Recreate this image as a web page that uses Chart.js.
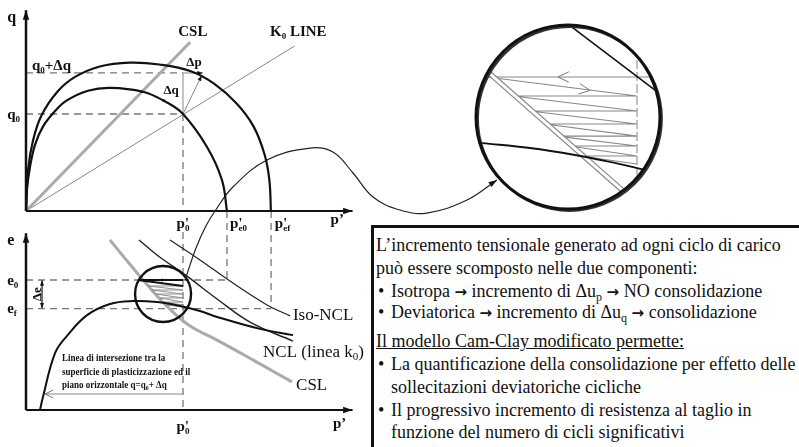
<!DOCTYPE html>
<html>
<head>
<meta charset="utf-8">
<script src="https://cdn.jsdelivr.net/npm/chart.js@4.4.0/dist/chart.umd.min.js"></script>
<style>
  body { margin: 0; background: #fff; width: 799px; height: 447px; overflow: hidden; position: relative; }
  #c { position: absolute; left: 0; top: 0; }
  #box { position: absolute; left: 371px; top: 225px; width: 500px; height: 300px; border: 3px solid #111; background: #fff;
         font-family: "Liberation Serif", "Times New Roman", Times, serif; font-size: 18px; color: #111; }
  .l { position: absolute; white-space: nowrap; line-height: 20px; }
  .l sub { font-size: 12px; vertical-align: -4px; line-height: 0; }
  .u { text-decoration: underline; }
  .ar { font-family: "DejaVu Sans", sans-serif; font-size: 15px; font-weight: bold; }
</style>
</head>
<body>
<canvas id="c" width="799" height="447"></canvas>
<div id="box">
  <div class="l" style="top:7px;left:2px">L’incremento tensionale generato ad ogni ciclo di carico</div>
  <div class="l" style="top:30px;left:2px">può essere scomposto nelle due componenti:</div>
  <div class="l" style="top:53px;left:4px">•</div>
  <div class="l" style="top:53px;left:17px">Isotropa <span class="ar">→</span> incremento di Δu<sub>p</sub> <span class="ar">→</span> NO consolidazione</div>
  <div class="l" style="top:74px;left:4px">•</div>
  <div class="l" style="top:74px;left:17px">Deviatorica <span class="ar">→</span> incremento di Δu<sub>q</sub> <span class="ar">→</span> consolidazione</div>
  <div class="l u" style="top:103px;left:2px">Il modello Cam-Clay modificato permette:</div>
  <div class="l" style="top:126px;left:4px">•</div>
  <div class="l" style="top:126px;left:17px">La quantificazione della consolidazione per effetto delle</div>
  <div class="l" style="top:149px;left:17px">sollecitazioni deviatoriche cicliche</div>
  <div class="l" style="top:172px;left:4px">•</div>
  <div class="l" style="top:172px;left:17px">Il progressivo incremento di resistenza al taglio in</div>
  <div class="l" style="top:194px;left:17px">funzione del numero di cicli significativi</div>
</div>
<script>
// ---- upper plane: p' (p'0 = 1) vs q (q0 = 1)
const qAxis = [[0, 0], [0, 2.07]];
const pAxisTop = [[0, 0], [2.08, 0]];
const outerYield = [[0, 0], [0.013, 0.42], [0.045, 0.73], [0.10, 0.99], [0.20, 1.23], [0.31, 1.38], [0.47, 1.49],
  [0.66, 1.53], [0.85, 1.51], [1.05, 1.44], [1.20, 1.31], [1.34, 1.11], [1.45, 0.87], [1.52, 0.58], [1.55, 0.32], [1.56, 0]];
const innerYield = [[0, 0], [0.006, 0.22], [0.025, 0.45], [0.057, 0.68], [0.108, 0.87], [0.185, 1.03], [0.26, 1.14],
  [0.395, 1.24], [0.535, 1.27], [0.745, 1.23], [0.885, 1.13], [1.0, 1.0], [1.153, 0.66], [1.248, 0.32], [1.28, 0]];
const cslTop = [[0, 0], [1.045, 1.74]];
const k0Line = [[0, 0], [1.71, 1.70]];
const q1Dash = [[0, 1.423], [1.0, 1.423]];
const q0Dash = [[0, 1], [1, 1]];
const p0DashTop = [[1, 1], [1, 0]];
const deltaQ = [[1, 1], [1, 1.423]];
const deltaP = [[1, 1.423], [1.127, 1.423]];
const deltaR = [[1, 1], [1.12, 1.40]];
const connector = [[1.013, -0.711], [1.083, -0.381], [1.146, -0.155], [1.204, 0], [1.318, 0.247], [1.535, 0.526],
  [1.809, 0.649], [1.955, 0.608], [2.083, 0.392], [2.21, 0.144], [2.382, 0.01], [2.554, -0.021], [2.809, 0.113], [3.0, 0.32]];

// ---- lower plane: p' vs e (e0 = 1, ef = 0.89)
const eAxis = [[0, 0.5], [0, 1.18]];
const pAxisBottom = [[0, 0.5], [2.08, 0.5]];
const cslBottom = [[0.535, 1.154], [0.65, 1.069], [0.79, 0.969], [0.917, 0.888], [1.045, 0.823], [1.217, 0.769], [1.459, 0.688], [1.694, 0.608]];
const isoNcl = [[0.917, 1.154], [1.108, 1.077], [1.318, 0.988], [1.535, 0.904], [1.682, 0.862]];
const nclK0 = [[0.72, 1.154], [0.834, 1.096], [1.025, 1.015], [1.217, 0.927], [1.427, 0.838], [1.701, 0.765]];
const yieldLine = [[0.089, 0.5], [0.108, 0.55], [0.185, 0.719], [0.261, 0.785], [0.389, 0.865], [0.535, 0.908], [0.682, 0.919],
  [0.834, 0.915], [0.981, 0.9], [1.108, 0.881], [1.217, 0.858], [1.49, 0.812], [1.701, 0.788]];
const e0Dash = [[0, 1], [1.28, 1]];
const efDash = [[0, 0.89], [1.561, 0.89]];
const p0DashBottom = [[1, 1.185], [1, 0.5]];
const pe0Dash = [[1.28, 1.265], [1.28, 1]];
const pefDash = [[1.561, 1.265], [1.561, 0.89]];
const smallCircle = [[0.873, 0.946]];
const hatchTop = [[1.0, 1], [0.713, 1], [1.0, 0.977]];
const hatchSaw = [[1.0, 0.977], [0.777, 0.977], [1.0, 0.9615], [0.803, 0.9615], [1.0, 0.946], [0.828, 0.946], [1.0, 0.931],
  [0.854, 0.931], [1.0, 0.915], [0.879, 0.915], [1.0, 0.904], [0.898, 0.904], [1.0, 0.896]];
const deltaE = [[0.102, 1], [0.102, 0.89]];
const noteArrow = [[1.0, 0.5615], [0.121, 0.5615]];

// ---- zoom (unit = circle radius)
const zoomCircle = [[0, 0]];
const zoomShade = [[0.018, -0.018]];
const zoomIso = [[0.043, 0.978], [0.946, 0.293]];
const zoomP0 = [[0.75, 0.62], [0.75, -0.63]];
const zoomCsl = [[-0.87, 0.489], [0.587, -0.793]];
const zoomTop = [[-0.88, 0.435], [0.902, 0.435]];
const zoomSaw = [[-0.88, 0.435], [0.75, 0.228], [-0.598, 0.228], [0.75, 0.065], [-0.413, 0.065], [0.75, -0.076], [-0.25, -0.076],
  [0.75, -0.207], [-0.12, -0.207], [0.75, -0.315], [0.022, -0.315], [0.75, -0.424], [0.13, -0.424], [0.75, -0.511]];
const zoomYield = [[-0.935, -0.283], [-0.413, -0.337], [0.076, -0.413], [0.457, -0.489], [0.837, -0.576]];

// visible window of each scale
const ranges = {
  x: [-0.1656, 4.9236],
  yq: [-2.433, 2.1753],
  ye: [0.3577, 2.0769],
  xz: [-6.174, 2.511],
  yz: [-3.587, 1.2717]
};

const pts = a => a.map(([x, y]) => ({ x, y }));
function line(a, xs, ys, color, width, extra) {
  return Object.assign({ data: pts(a), xAxisID: xs, yAxisID: ys, showLine: true, borderColor: color,
    borderWidth: width, pointRadius: 0, tension: 0, fill: false }, extra || {});
}
function ring(a, xs, ys, r, width, color) {
  return { data: pts(a), xAxisID: xs, yAxisID: ys, showLine: false, pointRadius: r, pointBorderWidth: width,
    pointBorderColor: color, pointBackgroundColor: 'rgba(0,0,0,0)' };
}
const DASH = { borderDash: [7, 5] };

// Chart.js paints the first dataset on top
const datasets = [
  line(qAxis, 'x', 'yq', '#111', 2.5),
  line(pAxisTop, 'x', 'yq', '#111', 2),
  line(outerYield, 'x', 'yq', '#111', 2.2, { tension: 0.4 }),
  line(innerYield, 'x', 'yq', '#111', 2.2, { tension: 0.4 }),
  line(connector, 'x', 'yq', '#222', 1.2, { tension: 0.4 }),
  line(cslTop, 'x', 'yq', '#aaa', 3),
  line(k0Line, 'x', 'yq', '#888', 1),
  line(q1Dash, 'x', 'yq', '#777', 1.3, DASH),
  line(q0Dash, 'x', 'yq', '#777', 1.3, DASH),
  line(p0DashTop, 'x', 'yq', '#777', 1.3, DASH),
  line(deltaQ, 'x', 'yq', '#888', 1),
  line(deltaP, 'x', 'yq', '#888', 1),
  line(deltaR, 'x', 'yq', '#888', 1),

  line(eAxis, 'x', 'ye', '#111', 2.5),
  line(pAxisBottom, 'x', 'ye', '#111', 2),
  ring(smallCircle, 'x', 'ye', 28, 2.4, '#111'),
  line(hatchTop, 'x', 'ye', '#111', 2),
  line(yieldLine, 'x', 'ye', '#111', 2, { tension: 0.4 }),
  line(nclK0, 'x', 'ye', '#222', 1.4, { tension: 0.4 }),
  line(isoNcl, 'x', 'ye', '#222', 1.2, { tension: 0.4 }),
  line(hatchSaw, 'x', 'ye', '#888', 0.9),
  line(cslBottom, 'x', 'ye', '#aaa', 3, { tension: 0.4 }),
  line(e0Dash, 'x', 'ye', '#777', 1.3, DASH),
  line(efDash, 'x', 'ye', '#777', 1.3, DASH),
  line(p0DashBottom, 'x', 'ye', '#777', 1.3, DASH),
  line(pe0Dash, 'x', 'ye', '#777', 1.3, DASH),
  line(pefDash, 'x', 'ye', '#777', 1.3, DASH),
  line(deltaE, 'x', 'ye', '#111', 1.2),
  line(noteArrow, 'x', 'ye', '#888', 1),

  ring(zoomCircle, 'xz', 'yz', 92, 3, '#111'),
  ring(zoomShade, 'xz', 'yz', 92, 2.5, '#333'),
  line(zoomIso, 'xz', 'yz', '#111', 1.6),
  line(zoomYield, 'xz', 'yz', '#111', 1.8, { tension: 0.4 }),
  line(zoomCsl, 'xz', 'yz', '#fff', 3),
  line(zoomCsl, 'xz', 'yz', '#8a8a8a', 5.5),
  line(zoomP0, 'xz', 'yz', '#999', 1.2, { borderDash: [9, 3] }),
  line(zoomTop, 'xz', 'yz', '#888', 1.2),
  line(zoomSaw, 'xz', 'yz', '#888', 1.2)
];

// arrow heads: [xScale, yScale, from, to, style, size]
const heads = [
  ['x', 'yq', [0, 1.9], [0, 2.07], 'fill', 10],
  ['x', 'yq', [1.9, 0], [2.08, 0], 'fill', 10],
  ['x', 'ye', [0, 1.0], [0, 1.18], 'fill', 10],
  ['x', 'ye', [1.9, 0.5], [2.08, 0.5], 'fill', 10],
  ['x', 'yq', [1, 1.423], [1.127, 1.423], 'fill', 6],
  ['x', 'yq', [1, 1], [1.12, 1.40], 'fill', 6],
  ['x', 'yq', [2.809, 0.113], [3.0, 0.32], 'fill', 9],
  ['x', 'ye', [0.102, 0.95], [0.102, 1], 'fill', 6],
  ['x', 'ye', [0.102, 0.94], [0.102, 0.89], 'fill', 6],
  ['x', 'ye', [0.5, 0.5615], [0.121, 0.5615], 'open', 9],
  ['x', 'ye', [0.9, 1], [0.84, 1], 'fill', 5],
  ['x', 'yq', [0.7, 1.245], [0.76, 1.22], 'fill', 5],
  ['x', 'yq', [0.85, 1.16], [0.9, 1.12], 'fill', 5],
  ['xz', 'yz', [0.05, 0.435], [-0.109, 0.435], 'open', 12],
  ['xz', 'yz', [0.09, 0.31], [0.239, 0.29], 'open', 12]
];

const FAM = '"Liberation Serif", "Times New Roman", Times, serif';
// labels: [xScale, yScale, position, runs, size, bold, align, extra]
const labels = [
  ['x', 'yq', [-0.12, 2.0], [['q']], 16, true, 'left'],
  ['x', 'yq', [0.038, 1.51], [['q'], ['0', 'sub'], ['+Δq']], 15, true, 'left'],
  ['x', 'yq', [-0.12, 1.0], [['q'], ['0', 'sub']], 15, true, 'left'],
  ['x', 'yq', [0.97, 1.856], [['CSL']], 15, true, 'left'],
  ['x', 'yq', [1.554, 1.856], [['K'], ['0', 'sub'], [' LINE']], 15, true, 'left'],
  ['x', 'yq', [0.924, 1.247], [['Δq']], 13, true, 'center'],
  ['x', 'yq', [1.07, 1.536], [['Δp']], 13, true, 'center'],
  ['x', 'yq', [1.0, -0.12], [['p'], ["'", 'sup', 'stack'], ['0', 'sub']], 15, true, 'center'],
  ['x', 'yq', [1.30, -0.12], [['p'], ["'", 'sup', 'stack'], ['e0', 'sub']], 15, true, 'left'],
  ['x', 'yq', [1.585, -0.12], [['p'], ["'", 'sup', 'stack'], ['ef', 'sub']], 15, true, 'left'],
  ['x', 'yq', [1.94, -0.08], [['p’']], 15, true, 'left'],

  ['x', 'ye', [-0.12, 1.154], [['e']], 16, true, 'left'],
  ['x', 'ye', [-0.12, 1.0], [['e'], ['0', 'sub']], 15, true, 'left'],
  ['x', 'ye', [-0.12, 0.892], [['e'], ['f', 'sub']], 15, true, 'left'],
  ['x', 'ye', [0.07, 0.945], [['Δe']], 13, true, 'center', { rot: -Math.PI / 2 }],
  ['x', 'ye', [1.7, 0.869], [['Iso-NCL']], 17, false, 'left'],
  ['x', 'ye', [1.51, 0.726], [['NCL (linea k'], ['0', 'sub'], [')']], 17, false, 'left'],
  ['x', 'ye', [1.72, 0.6], [['CSL']], 17, false, 'left'],
  ['x', 'ye', [1.0, 0.44], [['p'], ["'", 'sup', 'stack'], ['0', 'sub']], 15, true, 'center'],
  ['x', 'ye', [1.955, 0.45], [['p’']], 15, true, 'left'],
  ['x', 'ye', [0.229, 0.704], [['Linea di intersezione tra la']], 11, true, 'left', { sq: 0.82 }],
  ['x', 'ye', [0.229, 0.65], [['superficie di plasticizzazione ed il']], 11, true, 'left', { sq: 0.82 }],
  ['x', 'ye', [0.229, 0.6], [['piano orizzontale q=q'], ['0', 'sub'], ['+ Δq']], 11, true, 'left', { sq: 0.82 }]
];

function drawHead(ctx, x1, y1, x2, y2, style, size) {
  const a = Math.atan2(y2 - y1, x2 - x1), w = style === 'open' ? 0.45 : 0.33;
  ctx.beginPath();
  ctx.moveTo(x2 - size * Math.cos(a - w), y2 - size * Math.sin(a - w));
  ctx.lineTo(x2, y2);
  ctx.lineTo(x2 - size * Math.cos(a + w), y2 - size * Math.sin(a + w));
  if (style === 'open') { ctx.strokeStyle = '#777'; ctx.lineWidth = 1; ctx.stroke(); }
  else { ctx.closePath(); ctx.fillStyle = '#111'; ctx.fill(); }
}

function drawLabel(ctx, chart, L) {
  const [xs, ys, at, runs, size, bold, align, extra] = L;
  const ex = extra || {};
  const px = chart.scales[xs].getPixelForValue(at[0]);
  const py = chart.scales[ys].getPixelForValue(at[1]);
  const font = s => (bold ? 'bold ' : '') + s + 'px ' + FAM;
  const parts = runs.map(r => {
    const s = r[1] === 'sub' ? Math.round(size * 0.62) : (r[1] === 'sup' ? Math.round(size * 0.9) : size);
    ctx.font = font(s);
    return { t: r[0], kind: r[1], stack: r[2] === 'stack', s, w: ctx.measureText(r[0]).width };
  });
  let w = 0, pend = 0;
  parts.forEach(p => { if (p.stack) pend = p.w; else { w += Math.max(p.w, pend); pend = 0; } });
  ctx.save();
  ctx.translate(px, py);
  if (ex.rot) ctx.rotate(ex.rot);
  if (ex.sq) ctx.scale(ex.sq, 1);
  let x = align === 'center' ? -w / 2 : 0;
  ctx.fillStyle = '#111';
  ctx.textBaseline = 'alphabetic';
  ctx.textAlign = 'left';
  const base = size * 0.34;
  pend = 0;
  parts.forEach(p => {
    ctx.font = font(p.s);
    let dy = base;
    if (p.kind === 'sub') dy = base + size * 0.2;
    if (p.kind === 'sup') dy = base + size * 0.02;
    ctx.fillText(p.t, x, dy);
    if (p.stack) pend = p.w; else { x += Math.max(p.w, pend); pend = 0; }
  });
  ctx.restore();
}

const overlay = {
  id: 'overlay',
  afterDatasetsDraw(chart) {
    const ctx = chart.ctx;
    ctx.save();
    heads.forEach(([xs, ys, f, t, style, size]) => {
      const sx = chart.scales[xs], sy = chart.scales[ys];
      drawHead(ctx, sx.getPixelForValue(f[0]), sy.getPixelForValue(f[1]),
        sx.getPixelForValue(t[0]), sy.getPixelForValue(t[1]), style, size);
    });
    labels.forEach(L => drawLabel(ctx, chart, L));
    ctx.restore();
  }
};

function scale(id) {
  const [min, max] = ranges[id];
  return {
    type: 'linear', display: false, bounds: 'data', min, max,
    afterBuildTicks: s => { s.min = min; s.max = max; }
  };
}

new Chart(document.getElementById('c'), {
  type: 'scatter',
  data: { datasets },
  options: {
    responsive: false,
    animation: false,
    events: [],
    layout: { padding: 0, autoPadding: false },
    plugins: { legend: { display: false }, tooltip: { enabled: false } },
    scales: { x: scale('x'), yq: scale('yq'), ye: scale('ye'), xz: scale('xz'), yz: scale('yz') }
  },
  plugins: [overlay]
});
</script>
</body>
</html>
